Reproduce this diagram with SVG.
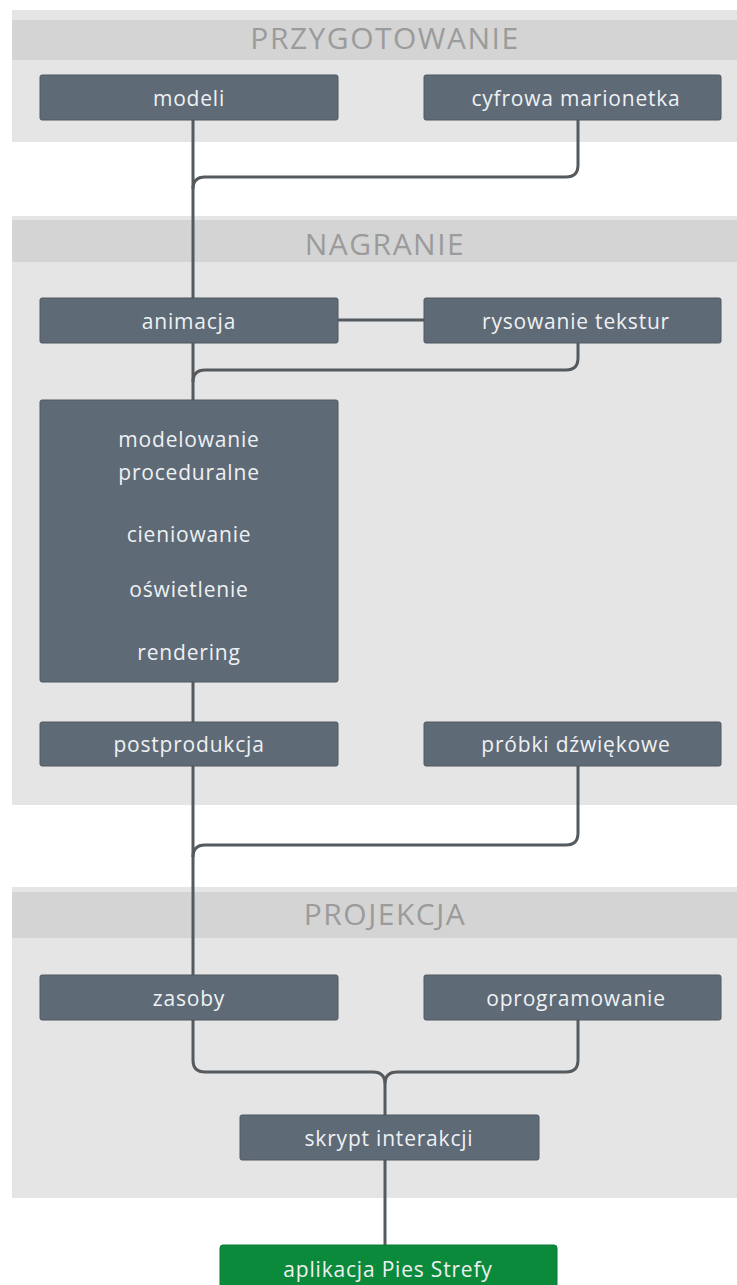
<svg xmlns="http://www.w3.org/2000/svg" width="737" height="1285" viewBox="0 0 737 1285">
<defs>
<style>
.panel{fill:#e5e5e5;}
.band{fill:#d4d4d4;}
.title{font-family:"Open Sans","Liberation Sans",sans-serif;font-size:30px;fill:#9b9b9b;text-anchor:middle;letter-spacing:1.5px;}
.node rect{fill:#5f6a77;stroke:#4f5862;stroke-width:1;}
.node text{font-family:"Open Sans","Liberation Sans",sans-serif;font-size:21px;fill:#eef1f3;text-anchor:middle;letter-spacing:0.8px;}
.green rect{fill:#0c8a3b;stroke:#0a7a33;}
.conn{fill:none;stroke:#555a5e;stroke-width:3;}
</style>
</defs>
<rect width="737" height="1285" fill="#ffffff"/>
<g id="panel-przygotowanie">
<rect class="panel" x="12" y="10" width="725" height="132"/>
<rect class="band" x="12" y="20" width="725" height="40"/>
<text class="title" x="385" y="49">PRZYGOTOWANIE</text>
</g>
<g id="panel-nagranie">
<rect class="panel" x="12" y="216" width="725" height="589"/>
<rect class="band" x="12" y="220" width="725" height="42"/>
<text class="title" x="385" y="255">NAGRANIE</text>
</g>
<g id="panel-projekcja">
<rect class="panel" x="12" y="887" width="725" height="311"/>
<rect class="band" x="12" y="892" width="725" height="46"/>
<text class="title" x="385" y="925">PROJEKCJA</text>
</g>
<g id="connectors">
<path class="conn" d="M193,120 V1060 Q193,1072 205,1072 H373 Q385,1072 385,1084 V1245"/>
<path class="conn" d="M578,120 V165 Q578,177 566,177 H205 Q193,177 193,189"/>
<path class="conn" d="M338,320 H424"/>
<path class="conn" d="M578,343 V358 Q578,370 566,370 H205 Q193,370 193,382"/>
<path class="conn" d="M578,766 V833 Q578,845 566,845 H205 Q193,845 193,857"/>
<path class="conn" d="M578,1020 V1060 Q578,1072 566,1072 H397 Q385,1072 385,1084"/>
</g>
<g id="modeli" class="node"><rect x="40" y="75" width="298" height="45" rx="2"/><text x="189" y="106">modeli</text></g>
<g id="cyfrowa-marionetka" class="node"><rect x="424" y="75" width="297" height="45" rx="2"/><text x="576" y="106">cyfrowa marionetka</text></g>
<g id="animacja" class="node"><rect x="40" y="298" width="298" height="45" rx="2"/><text x="189" y="329">animacja</text></g>
<g id="rysowanie-tekstur" class="node"><rect x="424" y="298" width="297" height="45" rx="2"/><text x="576" y="329">rysowanie tekstur</text></g>
<g id="proces" class="node"><rect x="40" y="400" width="298" height="282" rx="2"/>
<text x="189" y="447">modelowanie</text>
<text x="189" y="480">proceduralne</text>
<text x="189" y="542">cieniowanie</text>
<text x="189" y="597">oświetlenie</text>
<text x="189" y="660">rendering</text>
</g>
<g id="postprodukcja" class="node"><rect x="40" y="722" width="298" height="44" rx="2"/><text x="189" y="752">postprodukcja</text></g>
<g id="probki-dzwiekowe" class="node"><rect x="424" y="722" width="297" height="44" rx="2"/><text x="576" y="752">próbki dźwiękowe</text></g>
<g id="zasoby" class="node"><rect x="40" y="975" width="298" height="45" rx="2"/><text x="189" y="1006">zasoby</text></g>
<g id="oprogramowanie" class="node"><rect x="424" y="975" width="297" height="45" rx="2"/><text x="576" y="1006">oprogramowanie</text></g>
<g id="skrypt-interakcji" class="node"><rect x="240" y="1115" width="299" height="45" rx="2"/><text x="389" y="1146">skrypt interakcji</text></g>
<g id="aplikacja" class="node green"><rect x="220" y="1245" width="337" height="45" rx="3"/><text x="388" y="1277">aplikacja Pies Strefy</text></g>
</svg>
